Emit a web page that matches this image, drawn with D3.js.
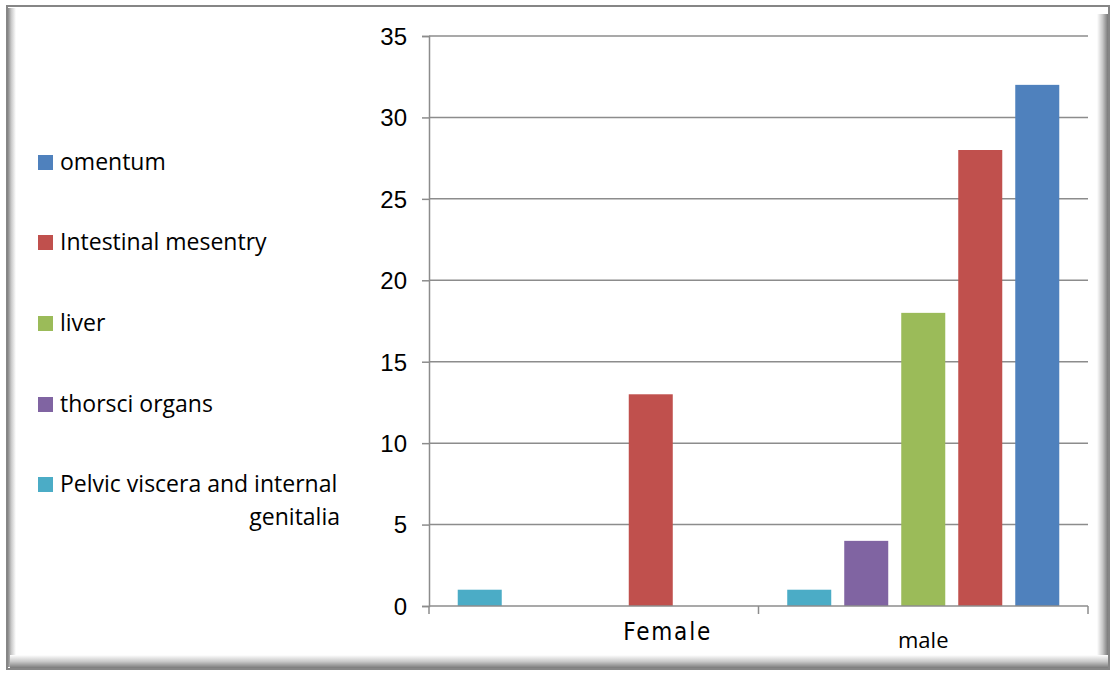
<!DOCTYPE html>
<html>
<head>
<meta charset="utf-8">
<script src="https://cdn.jsdelivr.net/npm/d3@7"></script>
<style>
  html, body { margin: 0; padding: 0; background: #fff; }
  svg { display: block; }
</style>
</head>
<body>
<svg id="chart" width="1113" height="673"></svg>
<script>
// Sites of involvement by sex
const categories = ["Female", "male"];
const seriesNames = ["Pelvic viscera and internal genitalia", "thorsci organs", "liver", "Intestinal mesentry", "omentum"];
const seriesColors = ["#4BACC6", "#8064A2", "#9BBB59", "#C0504D", "#4F81BD"];
const femaleValues = [1, 0, 0, 13, 0];
const maleValues = [1, 4, 18, 28, 32];
const yTicks = [0, 5, 10, 15, 20, 25, 30, 35];
const legendOrder = ["omentum", "Intestinal mesentry", "liver", "thorsci organs", "Pelvic viscera and internal genitalia"];

const valuesByCategory = { "Female": femaleValues, "male": maleValues };

const svg = d3.select("#chart");
const defs = svg.append("defs");

// ---- frame with bevelled inner edges ----
function grad(id, x1, y1, x2, y2, stops) {
  const g = defs.append("linearGradient").attr("id", id)
    .attr("x1", x1).attr("y1", y1).attr("x2", x2).attr("y2", y2);
  stops.forEach(s => g.append("stop").attr("offset", s[0]).attr("stop-color", s[1]));
}
grad("gLeft", 0, 0, 1, 0, [[0, "#8a8a8a"], [0.4, "#c8c8c8"], [1, "#ffffff"]]);
grad("gRight", 0, 0, 1, 0, [[0, "#ffffff"], [0.5, "#c8c8c8"], [1, "#7a7a7a"]]);
grad("gBottom", 0, 0, 0, 1, [[0, "#ffffff"], [0.5, "#c8c8c8"], [1, "#7a7a7a"]]);

const frame = { x0: 7, y0: 6, x1: 1109, y1: 669 };
svg.append("rect").attr("x", frame.x0).attr("y", frame.y0)
  .attr("width", frame.x1 - frame.x0).attr("height", frame.y1 - frame.y0)
  .attr("fill", "#fff");
svg.append("rect").attr("x", frame.x0 + 1).attr("y", frame.y0 + 2)
  .attr("width", 8).attr("height", frame.y1 - frame.y0 - 4).attr("fill", "url(#gLeft)");
svg.append("rect").attr("x", frame.x1 - 12).attr("y", frame.y0 + 8)
  .attr("width", 11).attr("height", frame.y1 - frame.y0 - 9).attr("fill", "url(#gRight)");
svg.append("rect").attr("x", frame.x0 + 3).attr("y", frame.y1 - 14)
  .attr("width", frame.x1 - frame.x0 - 4).attr("height", 13).attr("fill", "url(#gBottom)");
svg.append("rect").attr("x", frame.x0).attr("y", frame.y0)
  .attr("width", frame.x1 - frame.x0).attr("height", frame.y1 - frame.y0)
  .attr("fill", "none").attr("stroke", "#868686").attr("stroke-width", 2);

// ---- scales ----
const plot = { left: 429, right: 1088, top: 36, bottom: 606 };
const y = d3.scaleLinear().domain([0, 35]).range([plot.bottom, plot.top]);
const x0 = d3.scaleBand().domain(categories).range([plot.left, plot.right]).padding(0);
const x1 = d3.scaleBand().domain(seriesNames).range([0, x0.bandwidth()])
  .paddingInner(0.228).paddingOuter(0.504);

const gridColor = "#8c8c8c";

// gridlines
svg.append("g").selectAll("line").data(yTicks.filter(d => d > 0)).join("line")
  .attr("x1", plot.left).attr("x2", plot.right)
  .attr("y1", d => y(d)).attr("y2", d => y(d))
  .attr("stroke", gridColor).attr("stroke-width", 1.5);

// y axis
const yAxis = d3.axisLeft(y).tickValues(yTicks).tickSize(7).tickPadding(15).tickFormat(d3.format("d"));
const gy = svg.append("g").attr("transform", `translate(${plot.left},0)`).call(yAxis);
gy.attr("font-size", 24).attr("font-family", "'Liberation Sans', Arial, sans-serif");
gy.select(".domain").attr("stroke", gridColor).attr("stroke-width", 1.5);
gy.selectAll(".tick line").attr("stroke", gridColor).attr("stroke-width", 1.5);
gy.selectAll(".tick text").attr("fill", "#000").attr("dy", "0.35em");

// bars
const groups = svg.append("g").selectAll("g").data(categories).join("g")
  .attr("transform", d => `translate(${x0(d)},0)`);
groups.selectAll("rect")
  .data(c => seriesNames.map((s, i) => ({ s, i, v: valuesByCategory[c][i] })).filter(d => d.v > 0))
  .join("rect")
  .attr("x", d => x1(d.s))
  .attr("width", x1.bandwidth())
  .attr("y", d => y(d.v))
  .attr("height", d => y(0) - y(d.v))
  .attr("fill", d => seriesColors[d.i]);

// x axis
const gx = svg.append("g").attr("transform", `translate(0,${plot.bottom})`);
gx.append("line").attr("x1", plot.left).attr("x2", plot.right)
  .attr("stroke", gridColor).attr("stroke-width", 1.5);
const boundaries = categories.map(c => x0(c)).concat([plot.right]);
gx.selectAll("line.tk").data(boundaries).join("line").attr("class", "tk")
  .attr("x1", d => d).attr("x2", d => d).attr("y1", 0).attr("y2", 8)
  .attr("stroke", gridColor).attr("stroke-width", 1.5);

// category labels
svg.append("text").text(categories[0])
  .attr("x", x0(categories[0]) + x0.bandwidth() / 2 + 73).attr("y", 640)
  .attr("text-anchor", "middle")
  .attr("font-family", "'DejaVu Sans Condensed', 'DejaVu Sans', sans-serif")
  .attr("font-size", 24).attr("fill", "#000")
  .attr("textLength", 87).attr("lengthAdjust", "spacing");
svg.append("text").text(categories[1])
  .attr("x", x0(categories[1]) + x0.bandwidth() / 2).attr("y", 648)
  .attr("text-anchor", "middle")
  .attr("font-family", "'Open Sans', sans-serif")
  .attr("font-size", 22).attr("fill", "#000");

// legend
const legendY = [162, 242, 323, 404, 484];
const lg = svg.append("g");
legendOrder.forEach((name, k) => {
  const color = seriesColors[seriesNames.indexOf(name)];
  lg.append("rect").attr("x", 38).attr("y", legendY[k] - 7).attr("width", 15).attr("height", 15).attr("fill", color);
  const t = lg.append("text")
    .attr("font-family", "'Open Sans', sans-serif").attr("font-size", 23).attr("fill", "#000");
  if (name === "Pelvic viscera and internal genitalia") {
    t.append("tspan").attr("x", 60).attr("y", legendY[k] + 8).text("Pelvic viscera and internal");
    t.append("tspan").attr("x", 340).attr("y", legendY[k] + 41).attr("text-anchor", "end").text("genitalia");
  } else {
    t.attr("x", 60).attr("y", legendY[k] + 8).text(name);
  }
});
</script>
</body>
</html>
